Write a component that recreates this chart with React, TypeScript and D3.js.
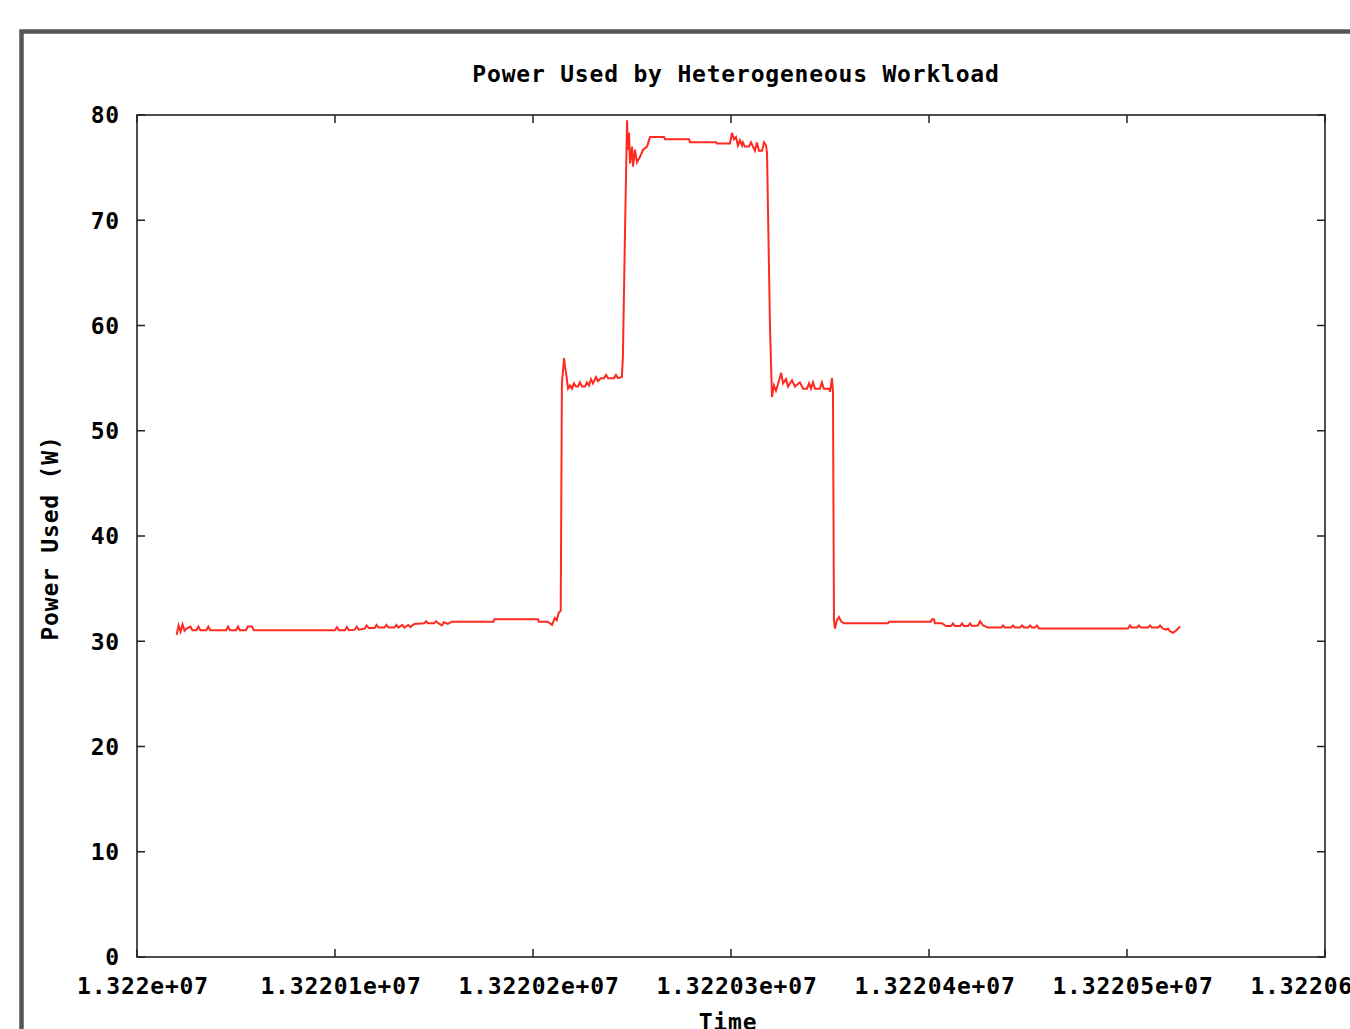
import React from "react";
import * as d3 from "d3";

// Time (s) and power (W)
const times = [
  13220020, 13220021, 13220022, 13220023, 13220024, 13220025, 13220027, 13220028, 13220030, 13220031,
  13220032, 13220035, 13220036, 13220037, 13220045, 13220046, 13220047, 13220050, 13220051, 13220052,
  13220055, 13220056, 13220058, 13220059, 13220100, 13220101, 13220102, 13220105, 13220106, 13220107,
  13220110, 13220111, 13220112, 13220115, 13220116, 13220117, 13220120, 13220121, 13220122, 13220125,
  13220126, 13220127, 13220130, 13220131, 13220132, 13220134, 13220135, 13220137, 13220138, 13220140,
  13220145, 13220146, 13220147, 13220150, 13220151, 13220152, 13220154, 13220155, 13220157, 13220159,
  13220180, 13220180.5, 13220202.5, 13220203, 13220207.5, 13220209.6, 13220211, 13220212, 13220213, 13220214,
  // middle step
  13220214.6, 13220215.7, 13220216.2, 13220216.7, 13220217.7, 13220218.7, 13220219.7, 13220220.7, 13220221.7, 13220222.7,
  13220223.7, 13220224.7, 13220226.3, 13220227.3, 13220228.3, 13220229.3, 13220230.3, 13220231.8, 13220232.8, 13220234.3,
  13220235.9, 13220236.9, 13220237.9, 13220240.9, 13220241.9, 13220242.9, 13220244.9, 13220245.4, 13220246.5, 13220247.5,
  // peak
  13220248, 13220248.5, 13220249, 13220250, 13220250.5, 13220251.5, 13220252.5, 13220254, 13220255.6, 13220257.6,
  13220259.1, 13220266.2, 13220266.7, 13220278.8, 13220279.3, 13220292.4, 13220292.9, 13220299.5, 13220300.5, 13220301.5,
  13220302.5, 13220303.5, 13220304.5, 13220305.6, 13220306, 13220307, 13220309.1, 13220310.1, 13220311.1, 13220312.1,
  13220313.1, 13220314.1, 13220315.7, 13220316.7, 13220317.7, 13220318.2, 13220318.7, 13220319.7, 13220320.7,
  // middle step down
  13220321.7, 13220322.7, 13220323.7, 13220325.3, 13220326.3, 13220327.8, 13220328.8, 13220330.8, 13220332.3, 13220334.8,
  13220336.4, 13220338.4, 13220339.4, 13220340.4, 13220341.4, 13220342.4, 13220344.9, 13220345.9, 13220346.9, 13220349.5,
  13220350, 13220351, 13220351.5, 13220352, 13220352.5, 13220353.5, 13220354.5, 13220355.6, 13220357,
  // idle tail
  13220379.3, 13220379.8, 13220401, 13220401.5, 13220402.5, 13220403, 13220406.6, 13220408.6, 13220411.1, 13220412.1,
  13220413.1, 13220415.7, 13220416.7, 13220417.7, 13220419.7, 13220420.7, 13220421.7, 13220424.7, 13220425.8, 13220427.3,
  13220429.8, 13220436.4, 13220437.4, 13220438.4, 13220441.4, 13220442.4, 13220443.4, 13220445.9, 13220447, 13220448,
  13220450, 13220451, 13220452, 13220453.5, 13220454.5, 13220455.6, 13220500.5, 13220501.5, 13220502.5, 13220505,
  13220506, 13220507, 13220510.6, 13220511.6, 13220512.6, 13220515.7, 13220516.7, 13220518.2, 13220519.7, 13220520.7,
  13220521.7, 13220523.2, 13220524.7, 13220526.8,
];

const watts = [
  30.6, 31.5, 30.9, 31.6, 31.0, 31.2, 31.4, 31.05, 31.05, 31.4,
  31.05, 31.05, 31.4, 31.05, 31.05, 31.4, 31.05, 31.05, 31.4, 31.05,
  31.05, 31.4, 31.4, 31.05, 31.05, 31.35, 31.05, 31.05, 31.35, 31.05,
  31.1, 31.4, 31.1, 31.2, 31.5, 31.25, 31.25, 31.55, 31.3, 31.3,
  31.55, 31.3, 31.3, 31.55, 31.3, 31.55, 31.3, 31.55, 31.35, 31.65,
  31.7, 31.9, 31.7, 31.7, 31.9, 31.75, 31.5, 31.8, 31.65, 31.86,
  31.86, 32.1, 32.1, 31.86, 31.86, 31.55, 32.2, 32.0, 32.7, 32.9,
  54.5, 56.9, 56.0, 55.5, 54.0, 54.3, 54.0, 54.5, 54.2, 54.2,
  54.6, 54.2, 54.2, 54.6, 54.3, 54.9, 54.5, 55.1, 54.7, 55.0,
  55.0, 55.3, 55.0, 55.0, 55.3, 55.0, 55.1, 57.0, 69.3, 79.5,
  76.7, 78.3, 75.4, 77.0, 75.1, 76.7, 75.5, 76.0, 76.7, 77.0,
  77.9, 77.9, 77.7, 77.7, 77.4, 77.4, 77.3, 77.3, 78.3, 77.7,
  77.9, 77.1, 77.6, 77.1, 77.4, 77.0, 77.0, 77.4, 77.0, 76.6,
  77.4, 76.6, 76.6, 77.4, 77.1, 76.4, 70.8, 59.8, 53.2,
  54.3, 53.8, 54.4, 55.5, 54.5, 54.9, 54.2, 54.8, 54.2, 54.6,
  54.0, 54.0, 54.5, 54.0, 54.6, 54.0, 54.0, 54.6, 54.0, 54.0,
  53.7, 55.0, 53.7, 32.0, 31.2, 32.0, 32.3, 31.9, 31.7,
  31.7, 31.86, 31.86, 32.1, 32.1, 31.7, 31.7, 31.45, 31.45, 31.7,
  31.45, 31.45, 31.7, 31.45, 31.45, 31.7, 31.45, 31.5, 31.9, 31.5,
  31.3, 31.3, 31.5, 31.3, 31.3, 31.5, 31.3, 31.3, 31.5, 31.3,
  31.3, 31.5, 31.3, 31.3, 31.5, 31.2, 31.2, 31.5, 31.3, 31.3,
  31.5, 31.3, 31.3, 31.5, 31.3, 31.3, 31.5, 31.2, 31.1, 31.2,
  30.95, 30.8, 31.0, 31.4,
];

const xTicks = [13220000, 13220100, 13220200, 13220300, 13220400, 13220500, 13220600];
const xTickLabels = ["1.322e+07", "1.32201e+07", "1.32202e+07", "1.32203e+07", "1.32204e+07", "1.32205e+07", "1.32206e+07"];
const yTicks = [0, 10, 20, 30, 40, 50, 60, 70, 80];

const title = "Power Used by Heterogeneous Workload";
const xTitle = "Time";
const yTitle = "Power Used (W)";

const W = 1350;
const H = 1029;
const plot = { left: 137, right: 1325, top: 115, bottom: 957 };
const font = "'DejaVu Sans Mono', 'Liberation Mono', monospace";

export default function App() {
  const x = d3.scaleLinear().domain([13220000, 13220600]).range([plot.left, plot.right]);
  const y = d3.scaleLinear().domain([0, 80]).range([plot.bottom, plot.top]);

  const points = times.map((t, i) => [t, watts[i]] as [number, number]);
  const line = d3
    .line<[number, number]>()
    .x((d) => x(d[0]))
    .y((d) => y(d[1]));

  const tickLen = 8;
  const labelStyle = {
    fontFamily: font,
    fontWeight: 700,
    fontSize: 23,
    letterSpacing: 0.8,
    fill: "#000",
  } as const;

  return (
    <div style={{ position: "absolute", left: 0, top: 0, width: W, height: H, overflow: "hidden" }}>
      <svg width={W} height={H} style={{ display: "block", background: "#fff" }}>
        {/* outer frame that runs off the page */}
        <rect x={21.5} y={31.5} width={W + 20} height={H + 20} fill="none" stroke="#555" strokeWidth={4.5} />

        {/* ticks on all four sides, pointing inward */}
        <g stroke="#222" strokeWidth={1.5}>
          {xTicks.map((t) => (
            <g key={"xt" + t}>
              <line x1={x(t)} x2={x(t)} y1={plot.bottom} y2={plot.bottom - tickLen} />
              <line x1={x(t)} x2={x(t)} y1={plot.top} y2={plot.top + tickLen} />
            </g>
          ))}
          {yTicks.map((v) => (
            <g key={"yt" + v}>
              <line x1={plot.left} x2={plot.left + tickLen} y1={y(v)} y2={y(v)} />
              <line x1={plot.right} x2={plot.right - tickLen} y1={y(v)} y2={y(v)} />
            </g>
          ))}
        </g>

        <path d={line(points) ?? ""} fill="none" stroke="#ff2a1f" strokeWidth={2} strokeLinejoin="miter" />

        <rect
          x={plot.left}
          y={plot.top}
          width={plot.right - plot.left}
          height={plot.bottom - plot.top}
          fill="none"
          stroke="#222"
          strokeWidth={1.6}
        />

        {yTicks.map((v) => (
          <text key={"yl" + v} x={120} y={y(v)} dy="0.36em" textAnchor="end" {...labelStyle}>
            {v}
          </text>
        ))}
        {xTicks.map((t, i) => (
          <text key={"xl" + t} x={x(t) + 6} y={986} dy="0.36em" textAnchor="middle" {...labelStyle}>
            {xTickLabels[i]}
          </text>
        ))}

        <text x={736} y={74} dy="0.36em" textAnchor="middle" {...labelStyle}>
          {title}
        </text>
        <text x={728} y={1022} dy="0.36em" textAnchor="middle" {...labelStyle}>
          {xTitle}
        </text>
        <text
          transform={`translate(50,538) rotate(-90)`}
          dy="0.36em"
          textAnchor="middle"
          {...labelStyle}
        >
          {yTitle}
        </text>
      </svg>
    </div>
  );
}
